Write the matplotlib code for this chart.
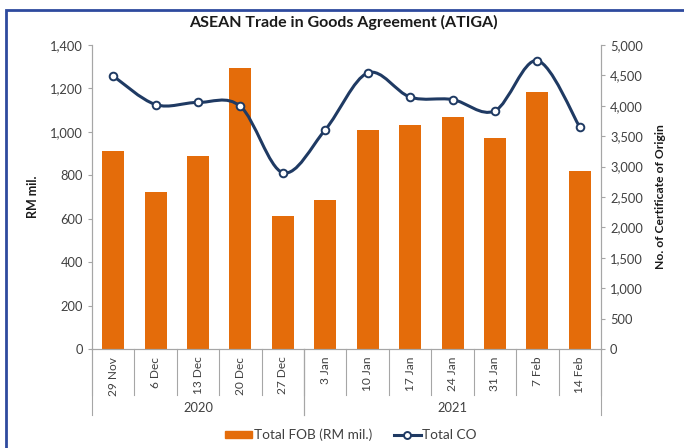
import numpy as np
import matplotlib
matplotlib.use('Agg')
import matplotlib.pyplot as plt
from matplotlib.path import Path
from matplotlib.patches import PathPatch, Rectangle
from matplotlib.lines import Line2D
from matplotlib.transforms import blended_transform_factory

weeks = ['29 Nov', '6 Dec', '13 Dec', '20 Dec', '27 Dec', '3 Jan',
         '10 Jan', '17 Jan', '24 Jan', '31 Jan', '7 Feb', '14 Feb']
years = ['2020', '2021']
year_counts = [5, 7]
total_fob = [910, 721, 887, 1293, 614, 688, 1009, 1032, 1067, 974, 1184, 821]
total_co = [4490, 4020, 4055, 3990, 2900, 3607, 4541, 4143, 4103, 3918, 4743, 3650]

ORANGE = '#E46C0A'
NAVY = '#1F3A63'
GREY = '#A6A6A6'
TXT = '#404040'

plt.rcParams['font.family'] = ['Lato', 'DejaVu Sans']


def smooth_path(x, y):
    # Excel-like smoothed line: cubic bezier through all points
    x = np.asarray(x, float)
    y = np.asarray(y, float)
    verts = [(x[0], y[0])]
    codes = [Path.MOVETO]
    n = len(x)
    for i in range(n - 1):
        p0 = np.array([x[max(i - 1, 0)], y[max(i - 1, 0)]])
        p1 = np.array([x[i], y[i]])
        p2 = np.array([x[i + 1], y[i + 1]])
        p3 = np.array([x[min(i + 2, n - 1)], y[min(i + 2, n - 1)]])
        c1 = p1 + (p2 - p0) / 6.0
        c2 = p2 - (p3 - p1) / 6.0
        verts += [tuple(c1), tuple(c2), tuple(p2)]
        codes += [Path.CURVE4] * 3
    return Path(verts, codes)


fig = plt.figure(figsize=(6.84, 4.48), dpi=100)
ax = fig.add_axes([92 / 684, 1 - 349 / 448, (601 - 92) / 684, (349 - 45) / 448])
ax2 = ax.twinx()

x = np.arange(len(weeks))
ax.bar(x, total_fob, width=0.52, color=ORANGE, zorder=2)
ax.set_xlim(-0.5, len(weeks) - 0.5)
ax.set_ylim(0, 1400)
ax.set_yticks(np.arange(0, 1401, 200))
ax.set_yticklabels([f'{v:,}' for v in range(0, 1401, 200)])

ax2.add_patch(PathPatch(smooth_path(x, total_co), facecolor='none',
                        edgecolor=NAVY, lw=2.2, zorder=3))
ax2.plot(x, total_co, ls='none', marker='o', ms=5.5, mfc='white',
         mec=NAVY, mew=1.4, zorder=4)
ax2.set_ylim(0, 5000)
ax2.set_yticks(np.arange(0, 5001, 500))
ax2.set_yticklabels([f'{v:,}' for v in range(0, 5001, 500)])

for a in (ax, ax2):
    for s in a.spines.values():
        s.set_color(GREY)
        s.set_linewidth(0.8)
    a.spines['top'].set_visible(False)
    a.tick_params(axis='y', colors=GREY, labelcolor=TXT, labelsize=9.3,
                  length=3, width=0.8)

ax.set_xticks(x)
ax.set_xticklabels(weeks, rotation=90, fontsize=8.6, color=TXT)
ax.tick_params(axis='x', length=0, pad=5.5)

# category separators and year groups
trans = blended_transform_factory(ax.transData, fig.transFigure)
for b in np.arange(len(weeks) + 1) - 0.5:
    ax.add_line(Line2D([b, b], [1 - 349 / 448, 1 - 395 / 448], transform=trans,
                       color=GREY, lw=0.8, clip_on=False))
start = -0.5
for yr, cnt in zip(years, year_counts):
    for b in (start, start + cnt):
        ax.add_line(Line2D([b, b], [1 - 349 / 448, 1 - 415 / 448], transform=trans,
                           color=GREY, lw=0.8, clip_on=False))
    fig.text(start + cnt / 2, 1 - 408 / 448, yr, transform=trans, fontsize=9.3,
             color=TXT, ha='center', va='center')
    start += cnt

fig.text(343 / 684, 1 - 22 / 448, 'ASEAN Trade in Goods Agreement (ATIGA)',
         ha='center', va='center', fontsize=11.5, fontweight='bold', color='#1a1a1a')
fig.text(33 / 684, 1 - 197 / 448, 'RM mil.', rotation=90, ha='center', va='center',
         fontsize=9, fontweight='bold', color='#1a1a1a')
fig.text(660 / 684, 1 - 197 / 448, 'No. of Certificate of Origin', rotation=90,
         ha='center', va='center', fontsize=8.7, fontweight='bold', color='#1a1a1a')

handles = [Rectangle((0, 0), 1, 1, color=ORANGE),
           Line2D([], [], color=NAVY, lw=2.2, marker='o', ms=5, mfc='white',
                  mec=NAVY, mew=1.4)]
fig.legend(handles, ['Total FOB (RM mil.)', 'Total CO'], loc='center',
           bbox_to_anchor=(351 / 684, 1 - 435 / 448), ncol=2, frameon=False,
           handlelength=2.0, handleheight=0.4, columnspacing=1.6,
           handletextpad=0.1, prop={'size': 9.8})
for t in fig.legends[0].get_texts():
    t.set_color(TXT)

# blue frame around the chart (runs off the right and bottom edge)
fig.patches.append(Rectangle((6 / 684, -0.05), 1.0, 1 - 10 / 448 + 0.05,
                             transform=fig.transFigure, fill=False,
                             edgecolor='#2E4A9E', lw=2.0))

fig.savefig('out.png', dpi=100)
